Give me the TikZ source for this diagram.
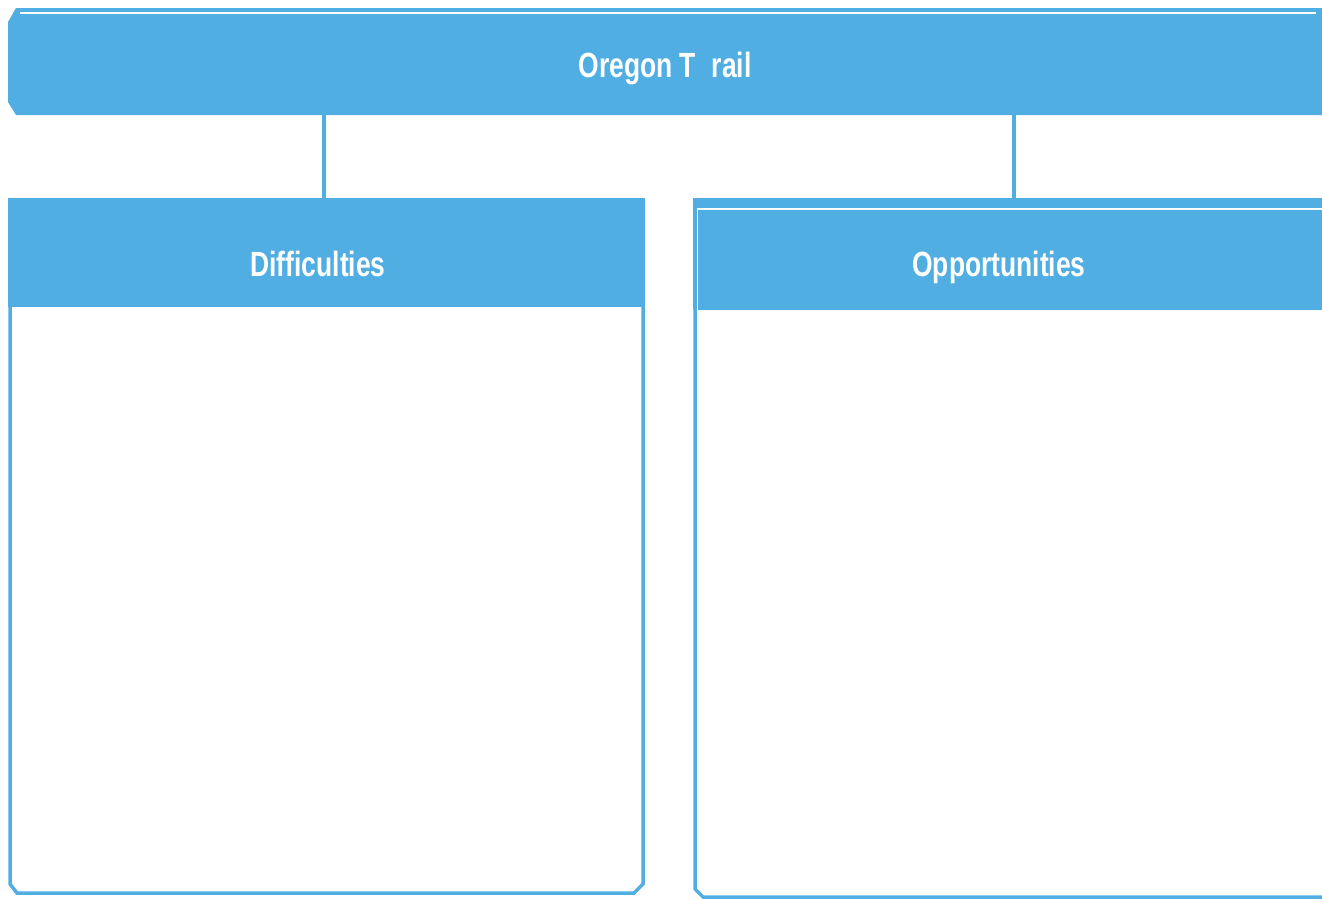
\documentclass[tikz,border=0pt]{standalone}
\usepackage{fontspec}
\newfontfamily\headfont[FakeStretch=0.755]{Liberation Sans}
\definecolor{trailblue}{HTML}{50AEE3}

\tikzset{
	boxline/.style={draw=trailblue, line width=3.5pt},
	headtext/.style={text=white, font=\headfont\bfseries\fontsize{35}{38}\selectfont, inner sep=0pt, anchor=base}
}

\begin{document}
\begin{tikzpicture}[x=1pt,y=-1pt]
	\useasboundingbox (0,0) rectangle (1322,900);

	% title bar
	\fill[trailblue] (16,8) -- (1322,8) -- (1322,115) -- (16,115) -- (8,102) -- (8,22) -- cycle;
	\draw[white, line width=1.5pt] (20,13) -- (1316,13);
	\node[headtext] (trail) at (665,77) {Oregon T\hspace{0.45em}rail};

	% left box
	\fill[trailblue] (8,198) rectangle (645,307);
	\draw[boxline] (10,198) -- (10,884) -- (17,893) -- (634,893) -- (643,884) -- (643,198);
	\node[headtext] (diff) at (318,276) {Difficulties};

	% right box
	\fill[trailblue] (693,198) rectangle (1322,310);
	\draw[white, line width=1.5pt] (697,310) -- (697,209) -- (1322,209);
	\draw[boxline] (695,198) -- (695,889) -- (703,897) -- (1322,897);
	\node[headtext] (opp) at (999,276) {Opportunities};

	% connectors
	\coordinate (trailL) at (324,115);
	\coordinate (trailR) at (1014,115);
	\coordinate (diffTop) at (324,198);
	\coordinate (oppTop) at (1014,198);
	\draw[boxline] (trailL) -- (diffTop);
	\draw[boxline] (trailR) -- (oppTop);
\end{tikzpicture}
\end{document}
